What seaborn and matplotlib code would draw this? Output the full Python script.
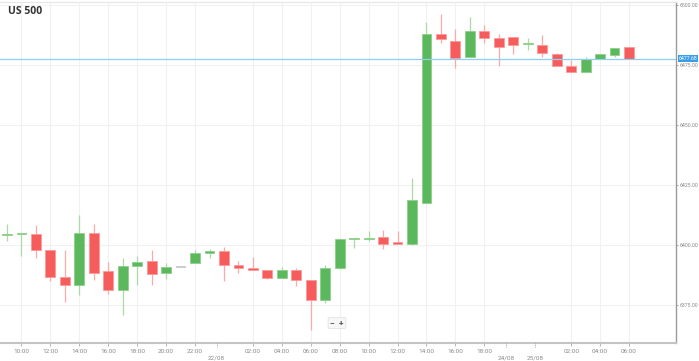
import matplotlib
matplotlib.use("Agg")
import matplotlib.pyplot as plt
import matplotlib.transforms as mtransforms
import seaborn as sns
import pandas as pd
import numpy as np

# ---- data ----
opens = [6404.0, 6404.4, 6404.6, 6397.9, 6386.7, 6383.3, 6405.0, 6389.2, 6381.3, 6391.3,
         6393.3, 6388.3, 6390.8, 6392.5, 6396.7, 6397.5, 6391.7, 6390.4, 6389.6, 6386.3,
         6389.6, 6385.4, 6377.1, 6390.4, 6402.4, 6402.5, 6403.3, 6400.8, 6400.4, 6417.5,
         6487.9, 6485.0, 6478.3, 6489.2, 6486.3, 6486.7, 6483.6, 6483.3, 6479.6, 6474.6,
         6472.1, 6477.5, 6479.2, 6482.5]
highs = [6408.8, 6404.9, 6408.3, 6398.0, 6397.9, 6412.5, 6408.8, 6392.9, 6394.6, 6395.4,
         6397.9, 6392.5, 6390.8, 6397.9, 6398.3, 6399.2, 6393.3, 6395.0, 6389.6, 6390.8,
         6390.4, 6385.4, 6391.7, 6402.5, 6402.6, 6405.8, 6406.3, 6405.8, 6427.9, 6492.9,
         6496.3, 6490.0, 6495.0, 6491.7, 6487.9, 6486.7, 6486.3, 6487.5, 6480.0, 6477.1,
         6478.3, 6479.7, 6482.2, 6482.6]
lows = [6401.7, 6395.4, 6394.6, 6385.0, 6376.3, 6379.2, 6385.4, 6379.6, 6370.8, 6383.3,
        6383.3, 6385.8, 6390.8, 6392.5, 6394.6, 6385.0, 6388.3, 6389.4, 6385.8, 6386.2,
        6382.9, 6364.6, 6375.8, 6390.0, 6398.8, 6401.7, 6398.3, 6400.4, 6400.2, 6417.3,
        6484.2, 6473.8, 6478.2, 6484.2, 6474.6, 6479.6, 6481.25, 6478.3, 6474.5, 6472.0,
        6472.0, 6477.4, 6478.3, 6477.6]
closes = [6404.2, 6404.8, 6397.9, 6386.7, 6383.3, 6405.0, 6388.3, 6381.3, 6391.3, 6392.9,
          6387.9, 6390.8, 6390.8, 6396.7, 6397.5, 6391.7, 6390.4, 6389.6, 6386.3, 6389.6,
          6385.4, 6377.1, 6390.4, 6402.5, 6402.5, 6402.9, 6400.4, 6400.6, 6418.75, 6487.9,
          6485.8, 6477.9, 6489.2, 6486.3, 6482.5, 6483.3, 6483.75, 6480.0, 6474.6, 6472.1,
          6477.5, 6479.6, 6482.1, 6477.68]

time_tick_idx = [1, 3, 5, 7, 9, 11, 13, 17, 19, 21, 23, 25, 27, 29, 31, 33, 39, 41, 43]
time_tick_labels = ["10:00", "12:00", "14:00", "16:00", "18:00", "20:00", "22:00",
                    "02:00", "04:00", "06:00", "08:00", "10:00", "12:00", "14:00",
                    "16:00", "18:00", "02:00", "04:00", "06:00"]
date_tick_pos = [14.5, 34.5, 36.5]
date_tick_labels = ["22/08", "24/08", "25/08"]
price_ticks = [6375, 6400, 6425, 6450, 6475, 6500]
last_price = 6477.68
title = "US 500"

df = pd.DataFrame({"open": opens, "high": highs, "low": lows, "close": closes})
df["idx"] = np.arange(len(df))

# ---- style ----
sns.set_theme(style="white")
plt.rcParams["font.family"] = ["Roboto", "DejaVu Sans"]

W, H = 699, 361
fig = plt.figure(figsize=(W / 100, H / 100), dpi=100)
fig.patch.set_facecolor("white")
ax = fig.add_axes([0, 18 / H, 676 / W, 341 / H])
ax.set_facecolor("white")

GREEN = "#5cb85c"
GREEN_EDGE = "#8fd08a"
GREEN_WICK = "#a9dba4"
RED = "#f75c5c"
RED_EDGE = "#fb9a9a"
RED_WICK = "#fbaaaa"
GRAY = "#c8c8c8"

# grid
for p in price_ticks:
    ax.axhline(p, color="#f1f1f1", lw=0.8, zorder=0)
for t in time_tick_idx:
    ax.axvline(t, color="#f1f1f1", lw=0.8, zorder=0)

# candles
w = 0.68
for _, r in df.iterrows():
    o, h, l, c, i = r["open"], r["high"], r["low"], r["close"], r["idx"]
    if c > o:
        fc, ec, wc = GREEN, GREEN_EDGE, GREEN_WICK
    elif c < o:
        fc, ec, wc = RED, RED_EDGE, RED_WICK
    else:
        fc, ec, wc = GRAY, GRAY, GRAY
    ax.vlines(i, l, h, color=wc, lw=0.9, zorder=2)
    bottom = min(o, c)
    height = max(abs(c - o), 0.45)
    ax.bar(i, height, bottom=bottom, width=w, color=fc, edgecolor=ec, lw=0.6, zorder=3)

# last price line
ax.axhline(last_price, color="#8ccff5", lw=0.9, zorder=4)
trans_y = mtransforms.blended_transform_factory(ax.transAxes, ax.transData)
ax.text(1.004, last_price, f"{last_price:.2f}", transform=trans_y, ha="left", va="center",
        fontsize=3.7, color="white",
        bbox=dict(boxstyle="square,pad=0.2", facecolor="#3a9de6", edgecolor="none"),
        clip_on=False, zorder=6)

ax.set_xlim(-0.484, 46.25)
ax.set_ylim(6359.17, 6501.25)

# axes / spines
ax.spines["left"].set_visible(False)
ax.spines["top"].set_color("#e6e6e6")
ax.spines["top"].set_linewidth(0.8)
ax.spines["right"].set_color("#9a9a9a")
ax.spines["right"].set_linewidth(1.0)
ax.spines["bottom"].set_color("#c4c4c4")
ax.spines["bottom"].set_linewidth(1.5)

ax.yaxis.tick_right()
ax.set_yticks(price_ticks)
ax.set_yticklabels([f"{p:.2f}" for p in price_ticks])
ax.tick_params(axis="y", which="both", right=True, left=False, length=1.5, width=0.6,
               color="#9a9a9a", labelsize=3.7, labelcolor="#888888", pad=0.8)
ax.set_xticks(time_tick_idx)
ax.set_xticklabels(time_tick_labels)
ax.tick_params(axis="x", bottom=True, length=2.5, width=0.6, color="#aaaaaa",
               labelsize=4.6, labelcolor="#8a8a8a", pad=2)

# date markers
trans_x = mtransforms.blended_transform_factory(ax.transData, ax.transAxes)
for pos, lab in zip(date_tick_pos, date_tick_labels):
    ax.plot([pos, pos], [0.0, -0.016], transform=trans_x, color="#999999", lw=0.6,
            ls=(0, (1, 1)), clip_on=False, zorder=5)
    ax.text(pos, -0.037, lab, transform=trans_x, ha="center", va="top", fontsize=4.6,
            color="#8a8a8a", clip_on=False)

# title
fig.text(8 / W, 1 - 12 / H, title, fontsize=7.5, fontweight="bold", color="#333333",
         ha="left", va="center", family=["Open Sans", "DejaVu Sans"])

# zoom buttons
fig.text(337 / W, 1 - 323 / H, "−  +", fontsize=6, fontweight="bold", color="#555555",
         ha="center", va="center",
         bbox=dict(boxstyle="round,pad=0.25,rounding_size=0.2", facecolor="#f7f7f7",
                   edgecolor="#e2e2e2", lw=0.6))

fig.savefig("out.png", dpi=100, facecolor="white")
